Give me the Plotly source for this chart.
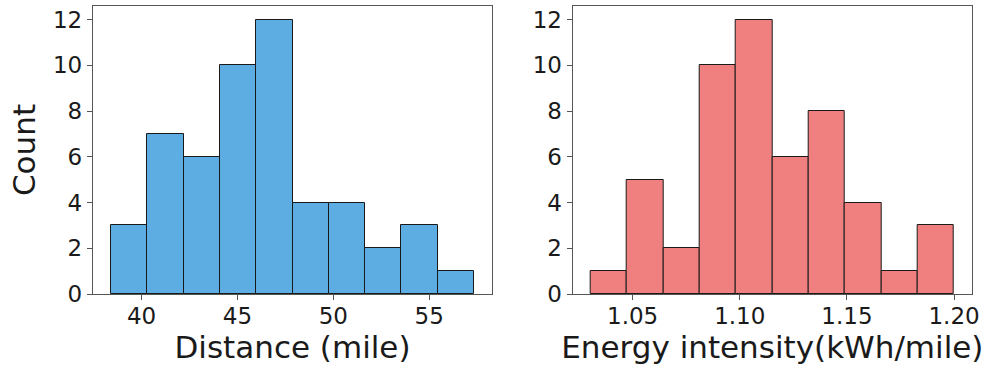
import numpy as np
import plotly.graph_objects as go

# ---- data ----
dist_counts = [3, 7, 6, 10, 12, 4, 4, 2, 3, 1]
dist_start = 38.41
dist_end = 57.33

energy_counts = [1, 5, 2, 10, 12, 6, 8, 4, 1, 3]
energy_start = 1.0305
energy_end = 1.1999

dist_ticks = [40, 45, 50, 55]
energy_ticks = [1.05, 1.10, 1.15, 1.20]
energy_ticklabels = ["1.05", "1.10", "1.15", "1.20"]
y_ticks = [0, 2, 4, 6, 8, 10, 12]

W, H = 994, 374
FONT = "DejaVu Sans"


def bins(start, end, counts):
    n = len(counts)
    edges = np.linspace(start, end, n + 1)
    centers = (edges[:-1] + edges[1:]) / 2
    width = (end - start) / n
    return centers, width


fig = go.Figure()

c1, w1 = bins(dist_start, dist_end, dist_counts)
fig.add_trace(go.Bar(x=c1, y=dist_counts, width=w1,
                     marker=dict(color="#5DADE2", line=dict(color="#1a1a1a", width=1)),
                     xaxis="x", yaxis="y", showlegend=False))
c2, w2 = bins(energy_start, energy_end, energy_counts)
fig.add_trace(go.Bar(x=c2, y=energy_counts, width=w2,
                     marker=dict(color="#F08080", line=dict(color="#1a1a1a", width=1)),
                     xaxis="x2", yaxis="y2", showlegend=False))

pad1 = (dist_end - dist_start) * 0.05
pad2 = (energy_end - energy_start) * 0.05

axis_common = dict(showline=True, mirror=True, linecolor="#555555", linewidth=1.3,
                   ticks="outside", ticklen=5, tickwidth=1.2, tickcolor="#555555",
                   showgrid=False, zeroline=False, automargin=False,
                   tickfont=dict(family=FONT, size=23, color="#1a1a1a"))

ytop = 1 - 6 / H
ybot = 1 - 294 / H

fig.update_layout(
    width=W, height=H,
    margin=dict(l=0, r=0, t=0, b=0),
    paper_bgcolor="white", plot_bgcolor="white",
    bargap=0,
    xaxis=dict(domain=[93 / W, 492 / W], range=[dist_start - pad1, dist_end + pad1],
               tickvals=dist_ticks, anchor="y", ticklabelstandoff=-4,
               title=dict(text="Distance (mile)", font=dict(family=FONT, size=31, color="#1a1a1a"), standoff=5),
               **axis_common),
    yaxis=dict(domain=[ybot, ytop], range=[0, 12.6], tickvals=y_ticks, anchor="x",
               title=dict(text="Count", font=dict(family=FONT, size=31, color="#1a1a1a"), standoff=8),
               **axis_common),
    xaxis2=dict(domain=[572.7 / W, 972 / W], range=[energy_start - pad2, energy_end + pad2],
                tickvals=energy_ticks, ticktext=energy_ticklabels, anchor="y2", ticklabelstandoff=-4,
                title=dict(text="Energy intensity(kWh/mile)", font=dict(family=FONT, size=31, color="#1a1a1a"), standoff=5),
                **axis_common),
    yaxis2=dict(domain=[ybot, ytop], range=[0, 12.6], tickvals=y_ticks, anchor="x2",
                **axis_common),
)

fig.write_html("out.html")
